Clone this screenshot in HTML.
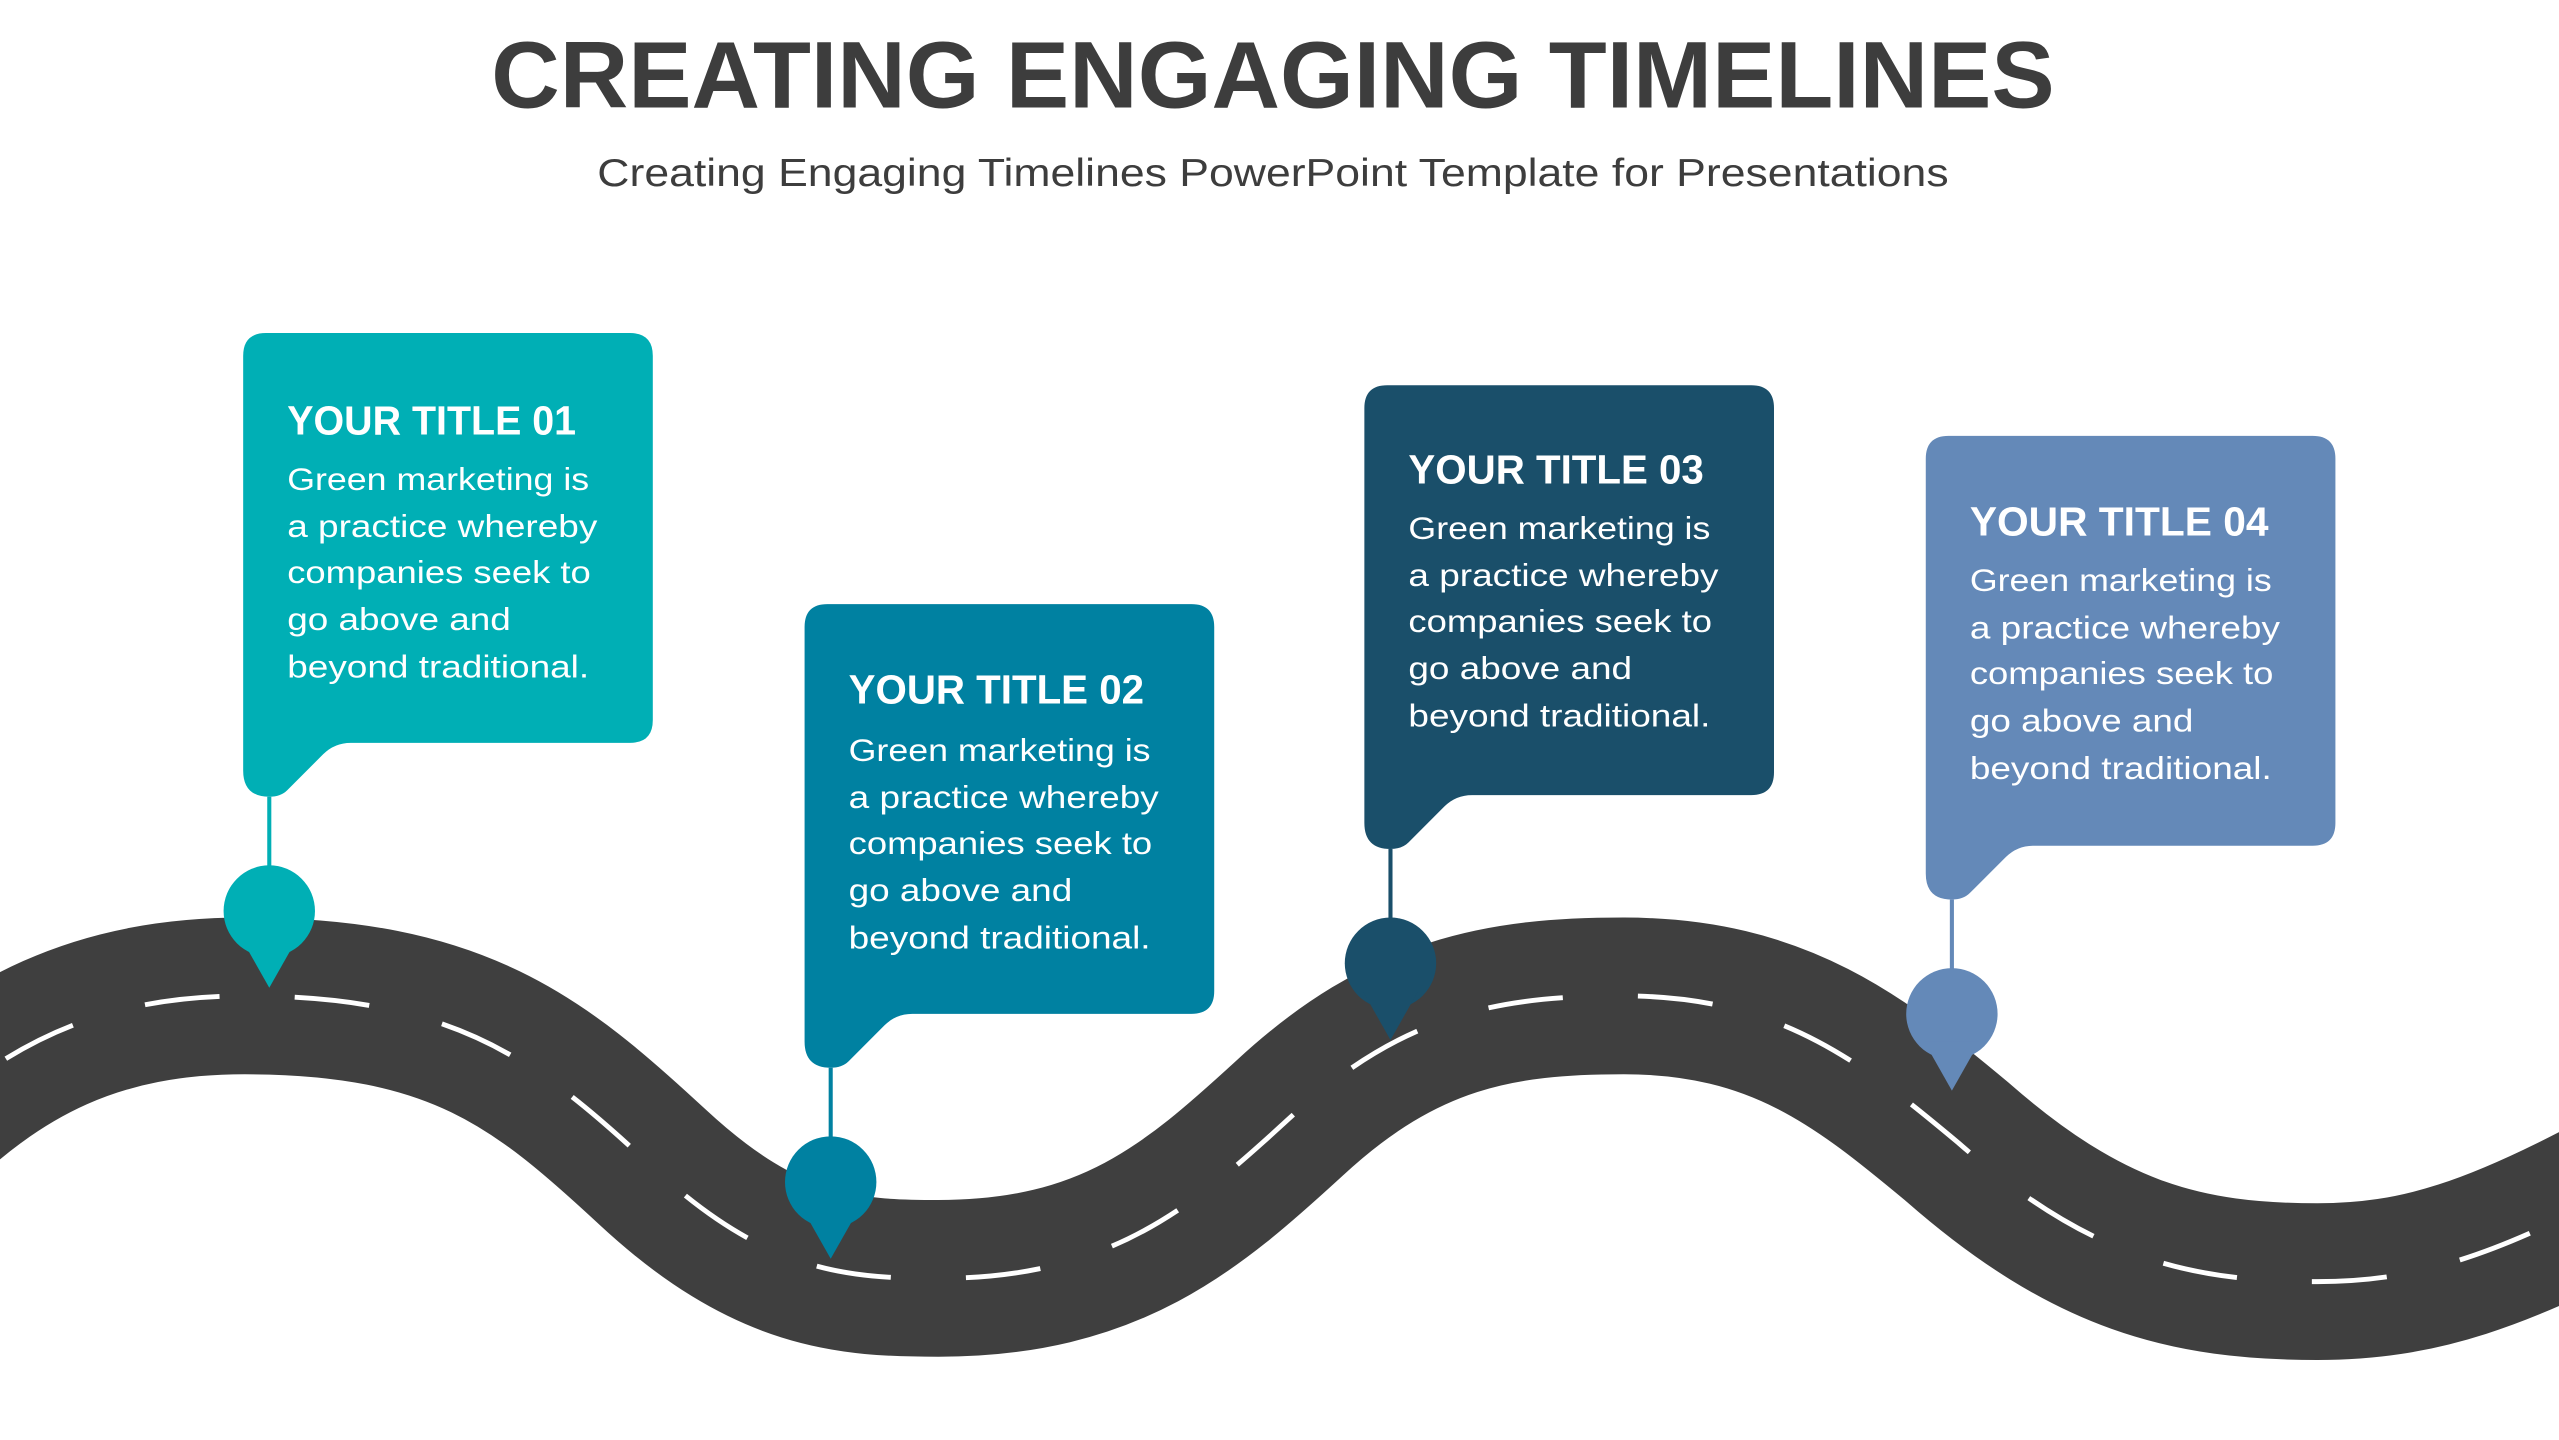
<!DOCTYPE html>
<html><head><meta charset="utf-8"><style>html,body{margin:0;padding:0;background:#fff;}svg{display:block}</style></head>
<body>
<svg width="2559" height="1440" viewBox="0 0 1568 882" preserveAspectRatio="none" xmlns="http://www.w3.org/2000/svg" font-family="'Liberation Sans', sans-serif">
<rect width="1568" height="882" fill="#fff"/>
<text x="780" y="66" text-anchor="middle" font-size="58" font-weight="bold" fill="#3d3d3d" textLength="958" lengthAdjust="spacingAndGlyphs">CREATING ENGAGING TIMELINES</text>
<text x="780" y="114" text-anchor="middle" font-size="24" fill="#3d3d3d" textLength="828" lengthAdjust="spacingAndGlyphs">Creating Engaging Timelines PowerPoint Template for Presentations</text>

<path d="M -60 700 C 0 640, 60 610, 150 610 C 280 610, 330 650, 400 715 C 470 780, 520 783, 575 783 C 680 783, 730 740, 790 685 C 860 620, 920 610, 995 610 C 1090 610, 1140 650, 1200 700 C 1280 770, 1340 785, 1420 785 C 1480 785, 1530 770, 1620 720" fill="none" stroke="#3f3f3f" stroke-width="96"/>
<path d="M -60 700 C 0 640, 60 610, 150 610 C 280 610, 330 650, 400 715 C 470 780, 520 783, 575 783 C 680 783, 730 740, 790 685 C 860 620, 920 610, 995 610 C 1090 610, 1140 650, 1200 700 C 1280 770, 1340 785, 1420 785 C 1480 785, 1530 770, 1620 720" fill="none" stroke="#fff" stroke-width="3" stroke-dasharray="46 46" stroke-dashoffset="10"/>

<g>
<path d="M163 204 H386 Q400 204 400 218 V441 Q400 455 386 455 H215 Q205 455 198 462 L176 484 Q172 488 165 488 Q149 488 149 472 V218 Q149 204 163 204 Z" fill="#00AFB5"/>
<line x1="165" y1="488" x2="165" y2="532" stroke="#00AFB5" stroke-width="2.5"/>
<circle cx="165" cy="558" r="28" fill="#00AFB5"/>
<path d="M148 575 L182 575 L165 605 Z" fill="#00AFB5"/>
</g>
<g transform="translate(344,166)">
<path d="M163 204 H386 Q400 204 400 218 V441 Q400 455 386 455 H215 Q205 455 198 462 L176 484 Q172 488 165 488 Q149 488 149 472 V218 Q149 204 163 204 Z" fill="#0081A1"/>
<line x1="165" y1="488" x2="165" y2="532" stroke="#0081A1" stroke-width="2.5"/>
<circle cx="165" cy="558" r="28" fill="#0081A1"/>
<path d="M148 575 L182 575 L165 605 Z" fill="#0081A1"/>
</g>
<g transform="translate(687,32)">
<path d="M163 204 H386 Q400 204 400 218 V441 Q400 455 386 455 H215 Q205 455 198 462 L176 484 Q172 488 165 488 Q149 488 149 472 V218 Q149 204 163 204 Z" fill="#1A4F6A"/>
<line x1="165" y1="488" x2="165" y2="532" stroke="#1A4F6A" stroke-width="2.5"/>
<circle cx="165" cy="558" r="28" fill="#1A4F6A"/>
<path d="M148 575 L182 575 L165 605 Z" fill="#1A4F6A"/>
</g>
<g transform="translate(1031,63)">
<path d="M163 204 H386 Q400 204 400 218 V441 Q400 455 386 455 H215 Q205 455 198 462 L176 484 Q172 488 165 488 Q149 488 149 472 V218 Q149 204 163 204 Z" fill="#6489B8"/>
<line x1="165" y1="488" x2="165" y2="532" stroke="#6489B8" stroke-width="2.5"/>
<circle cx="165" cy="558" r="28" fill="#6489B8"/>
<path d="M148 575 L182 575 L165 605 Z" fill="#6489B8"/>
</g>

<g fill="#fff">
<g>
<text x="176" y="266" font-size="25" font-weight="bold" textLength="177" lengthAdjust="spacingAndGlyphs">YOUR TITLE 01</text>
<g font-size="19">
<text x="176" y="300" textLength="185" lengthAdjust="spacingAndGlyphs">Green marketing is</text>
<text x="176" y="329" textLength="190" lengthAdjust="spacingAndGlyphs">a practice whereby</text>
<text x="176" y="357" textLength="186" lengthAdjust="spacingAndGlyphs">companies seek to</text>
<text x="176" y="386" textLength="137" lengthAdjust="spacingAndGlyphs">go above and</text>
<text x="176" y="415" textLength="185" lengthAdjust="spacingAndGlyphs">beyond traditional.</text>
</g></g>
<g transform="translate(344,166)">
<text x="176" y="265" font-size="25" font-weight="bold" textLength="181" lengthAdjust="spacingAndGlyphs">YOUR TITLE 02</text>
<g font-size="19">
<text x="176" y="300" textLength="185" lengthAdjust="spacingAndGlyphs">Green marketing is</text>
<text x="176" y="329" textLength="190" lengthAdjust="spacingAndGlyphs">a practice whereby</text>
<text x="176" y="357" textLength="186" lengthAdjust="spacingAndGlyphs">companies seek to</text>
<text x="176" y="386" textLength="137" lengthAdjust="spacingAndGlyphs">go above and</text>
<text x="176" y="415" textLength="185" lengthAdjust="spacingAndGlyphs">beyond traditional.</text>
</g></g>
<g transform="translate(687,30)">
<text x="176" y="266" font-size="25" font-weight="bold" textLength="181" lengthAdjust="spacingAndGlyphs">YOUR TITLE 03</text>
<g font-size="19">
<text x="176" y="300" textLength="185" lengthAdjust="spacingAndGlyphs">Green marketing is</text>
<text x="176" y="329" textLength="190" lengthAdjust="spacingAndGlyphs">a practice whereby</text>
<text x="176" y="357" textLength="186" lengthAdjust="spacingAndGlyphs">companies seek to</text>
<text x="176" y="386" textLength="137" lengthAdjust="spacingAndGlyphs">go above and</text>
<text x="176" y="415" textLength="185" lengthAdjust="spacingAndGlyphs">beyond traditional.</text>
</g></g>
<g transform="translate(1031,62)">
<text x="176" y="266" font-size="25" font-weight="bold" textLength="183" lengthAdjust="spacingAndGlyphs">YOUR TITLE 04</text>
<g font-size="19">
<text x="176" y="300" textLength="185" lengthAdjust="spacingAndGlyphs">Green marketing is</text>
<text x="176" y="329" textLength="190" lengthAdjust="spacingAndGlyphs">a practice whereby</text>
<text x="176" y="357" textLength="186" lengthAdjust="spacingAndGlyphs">companies seek to</text>
<text x="176" y="386" textLength="137" lengthAdjust="spacingAndGlyphs">go above and</text>
<text x="176" y="415" textLength="185" lengthAdjust="spacingAndGlyphs">beyond traditional.</text>
</g></g>
</g>
</svg>
</body></html>
